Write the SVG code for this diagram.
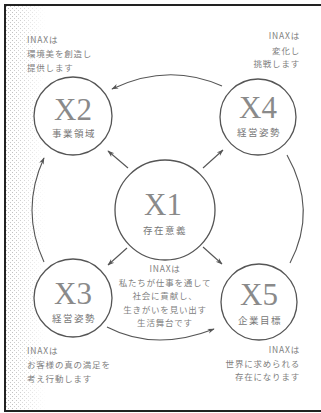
<svg xmlns="http://www.w3.org/2000/svg" width="321" height="413" viewBox="0 0 321 413">
<defs>
<style>
.frame{stroke:#222;stroke-width:2;fill:none}
.c{fill:#fff;stroke:#555;stroke-width:1.3}
.big{font-family:"Liberation Serif",serif;font-size:31px;fill:#8a8a8a;text-anchor:middle}
.lab{font-family:"Noto Sans CJK JP",sans-serif;font-size:9.5px;fill:#777;text-anchor:middle;letter-spacing:1.5px}
.t{font-family:"Noto Sans CJK JP",sans-serif;font-size:8.5px;fill:#808080;letter-spacing:0.8px}
.r{text-anchor:end}
.m{text-anchor:middle}
.con{fill:none;stroke:#555;stroke-width:1.1}
</style>
<marker id="ah" viewBox="0 0 10 10" refX="9" refY="5" markerWidth="7" markerHeight="7" orient="auto-start-reverse" markerUnits="userSpaceOnUse">
<path d="M0,1.5 L10,5 L0,8.5 L3,5 Z" fill="#555"/>
</marker>
<pattern id="dots" width="4" height="4" patternUnits="userSpaceOnUse">
<rect x="0" y="0" width="0.8" height="0.8" fill="#888"/>
<rect x="2" y="2" width="0.8" height="0.8" fill="#999"/>
</pattern>
<linearGradient id="fade" x1="0" y1="0" x2="1" y2="0">
<stop offset="0" stop-color="#fff" stop-opacity="1"/>
<stop offset="1" stop-color="#fff" stop-opacity="0"/>
</linearGradient>
<mask id="fm"><rect x="6" y="6" width="40" height="404" fill="url(#fade)"/></mask>
</defs>
<rect width="321" height="413" fill="#fff"/>
<rect x="6" y="6" width="40" height="404" fill="url(#dots)" mask="url(#fm)"/>
<path class="frame" d="M5,412 L5,5 L321,5 M5,411 L321,411"/>

<g id="connectors">
<path class="con" d="M222,86 Q168,62 112,89" marker-end="url(#ah)"/>
<path class="con" d="M44,262 Q20,210 44,158" marker-end="url(#ah)"/>
<path class="con" d="M107,327 Q155,352 214,329" marker-end="url(#ah)"/>
<path class="con" d="M287,155 Q318,210 290,263"/>
<path class="con" d="M128,168 L108,151" marker-end="url(#ah)"/>
<path class="con" d="M203,168 L223,150" marker-end="url(#ah)"/>
<path class="con" d="M127,248 L108,265" marker-end="url(#ah)"/>
<path class="con" d="M203,247 L222,264" marker-end="url(#ah)"/>
</g>

<g id="note-x2">
<text class="t" x="27" y="43">INAXは</text>
<text class="t" x="27" y="57">環境美を創造し</text>
<text class="t" x="27" y="71">提供します</text>
</g>
<g id="note-x4">
<text class="t r" x="300" y="39">INAXは</text>
<text class="t r" x="300" y="54">変化し</text>
<text class="t r" x="300" y="67">挑戦します</text>
</g>
<g id="note-x3">
<text class="t" x="27" y="354">INAXは</text>
<text class="t" x="27" y="368">お客様の真の満足を</text>
<text class="t" x="27" y="382">考え行動します</text>
</g>
<g id="note-x5">
<text class="t r" x="300" y="353">INAXは</text>
<text class="t r" x="300" y="367">世界に求められる</text>
<text class="t r" x="300" y="380">存在になります</text>
</g>

<g id="x2">
<circle class="c" cx="73" cy="116" r="39"/>
<text class="big" x="73" y="120">X2</text>
<text class="lab" x="74" y="137">事業領域</text>
</g>
<g id="x4">
<circle class="c" cx="258" cy="117" r="38"/>
<text class="big" x="258" y="118">X4</text>
<text class="lab" x="259" y="136">経営姿勢</text>
</g>
<g id="x3">
<circle class="c" cx="73" cy="298" r="39"/>
<text class="big" x="73" y="304">X3</text>
<text class="lab" x="74" y="322">経営姿勢</text>
</g>
<g id="x5">
<circle class="c" cx="259" cy="302" r="38"/>
<text class="big" x="259" y="305">X5</text>
<text class="lab" x="260" y="324">企業目標</text>
</g>
<g id="x1">
<circle class="c" cx="165" cy="210" r="50"/>
<text class="big" x="163" y="215">X1</text>
<text class="lab" x="165" y="234">存在意義</text>
<text class="t m" x="165" y="272">INAXは</text>
<text class="t m" x="165" y="285.5">私たちが仕事を通して</text>
<text class="t m" x="165" y="299">社会に貢献し、</text>
<text class="t m" x="165" y="312.5">生きがいを見い出す</text>
<text class="t m" x="165" y="326">生活舞台です</text>
</g>
</svg>
